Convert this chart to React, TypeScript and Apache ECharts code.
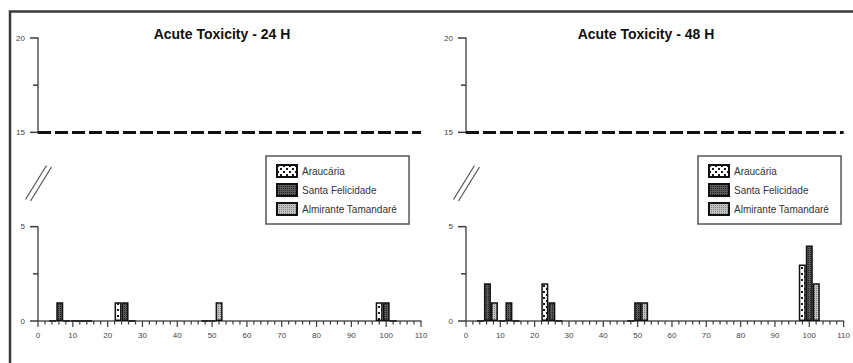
import React, { useEffect, useRef } from "react";
import * as echarts from "echarts";

const concentrations = [6.25, 12.5, 25, 50, 100];
const seriesNames = ["Araucária", "Santa Felicidade", "Almirante Tamandaré"];
const araucaria24 = [0, 0, 1, 0, 1];
const santaFelicidade24 = [1, 0, 1, 0, 1];
const almirante24 = [0, 0, 0, 1, 0];
const araucaria48 = [0, 0, 2, 0, 3];
const santaFelicidade48 = [2, 1, 1, 1, 4];
const almirante48 = [1, 0, 0, 1, 2];
const panelTitles = ["Acute Toxicity - 24 H", "Acute Toxicity - 48 H"];
const limitValue = 15;
const xMin = 0;
const xMax = 110;
const xInterval = 10;
const xMinorStep = 2;
const yMin = 0;
const yMax = 20;
const yInterval = 5;
const yMajorTicks = [0, 5, 15, 20];
const yMinorTicks = [2.5, 17.5];
const breakStart = 5;
const breakEnd = 15;
const breakGap = 5;

const FONT = "'Liberation Sans', Arial, sans-serif";

function makePattern(size: number, bg: string, fg: string, cells: number[][]) {
  const c = document.createElement("canvas");
  c.width = size;
  c.height = size;
  const ctx = c.getContext("2d")!;
  ctx.fillStyle = bg;
  ctx.fillRect(0, 0, size, size);
  ctx.fillStyle = fg;
  cells.forEach(([x, y, w, h]) => ctx.fillRect(x, y, w, h));
  return { image: c.toDataURL(), repeat: "repeat", imageWidth: size, imageHeight: size } as any;
}

export default function App() {
  const ref = useRef<HTMLDivElement>(null);
  useEffect(() => {
    if (!ref.current) return;
    const chart = echarts.init(ref.current, null, { renderer: "svg" });
    const patterns = [
      makePattern(6, "#ffffff", "#1a1a1a", [[0, 0, 2, 2], [3, 3, 2, 2]]),
      makePattern(2, "#5c5c5c", "#1e1e1e", [[0, 0, 1, 1]]),
      makePattern(2, "#c4c4c4", "#7a7a7a", [[0, 0, 1, 1]]),
    ];
    const panels = [
      [araucaria24, santaFelicidade24, almirante24],
      [araucaria48, santaFelicidade48, almirante48],
    ];
    const grids = [
      { left: 38, top: 38, width: 383, height: 283 },
      { left: 466, top: 38, width: 381, height: 283 },
    ];
    const axisColor = "#555";
    const series: any[] = [];
    panels.forEach((vals, p) => {
      vals.forEach((arr, s) => {
        series.push({
          type: "bar",
          name: seriesNames[s],
          xAxisIndex: p,
          yAxisIndex: p,
          barWidth: 7,
          barGap: "0%",
          data: concentrations.map((c, i) => [c, arr[i]]),
          itemStyle: { color: patterns[s], borderColor: "#111", borderWidth: 1.5 },
          markLine:
            s === 0
              ? {
                  silent: true,
                  symbol: ["none", "none"],
                  label: { show: false },
                  lineStyle: { color: "#111", width: 3, type: [13, 4] },
                  data: [{ yAxis: limitValue }],
                }
              : undefined,
        });
      });
    });
    const option: any = {
      animation: false,
      title: panelTitles.map((t, i) => ({
        text: t,
        left: i === 0 ? 217 : 641,
        top: 22,
        textAlign: "center",
        textStyle: { fontSize: 14, fontWeight: "bold", fontFamily: FONT, color: "#111" },
      })),
      legend: [0, 1].map((i) => ({
        orient: "vertical",
        left: i === 0 ? 266 : 698,
        top: 156,
        data: seriesNames,
        itemWidth: 20,
        itemHeight: 12,
        itemGap: 5,
        padding: [8, 12, 8, 10],
        borderColor: "#555",
        borderWidth: 1.5,
        selectedMode: false,
        icon: "rect",
        textStyle: { fontSize: 10, lineHeight: 12, fontFamily: FONT, color: "#333" },
      })),
      grid: grids,
      xAxis: grids.map((_, i) => ({
        type: "value",
        gridIndex: i,
        min: xMin,
        max: xMax,
        interval: xInterval,
        axisLine: { show: true, onZero: false, lineStyle: { color: axisColor, width: 1.5 } },
        axisTick: { show: false },
        minorTick: { show: false },
        axisLabel: { margin: 10, fontSize: 8, color: "#444", fontFamily: FONT },
        splitLine: { show: false },
      })),
      yAxis: grids.map((_, i) => ({
        type: "value",
        gridIndex: i,
        position: "left",
        min: yMin,
        max: yMax,
        interval: yInterval,
        breaks: [{ start: breakStart, end: breakEnd, gap: breakGap }],
        breakArea: { show: false },
        axisLine: { show: true, onZero: false, lineStyle: { color: axisColor, width: 1.5 } },
        axisTick: { show: false },
        minorTick: { show: false },
        axisLabel: { margin: 13, fontSize: 8, color: "#444", fontFamily: FONT },
        splitLine: { show: false },
      })),
      series,
    };
    chart.setOption(option);

    const graphics: any[] = [
      {
        type: "polyline",
        shape: { points: [[10, 363], [10, 11.5], [853, 11.5]] },
        style: { stroke: "#3a3a3a", lineWidth: 2.5, fill: null },
        silent: true,
      },
    ];
    const tickRect = (x: number, y: number, w: number, h: number) => ({
      type: "rect",
      z: 10,
      shape: { x, y, width: w, height: h },
      style: { fill: "#3c3c3c" },
      silent: true,
    });
    grids.forEach((g, i) => {
      const yPix = (v: number) => Number(chart.convertToPixel({ yAxisIndex: i } as any, v));
      const xPix = (v: number) => Number(chart.convertToPixel({ xAxisIndex: i } as any, v));
      const ax = xPix(xMin);
      const ay = yPix(yMin);
      // y ticks (drawn as thin filled rects)
      yMajorTicks.forEach((v) => {
        const py = yPix(v);
        graphics.push(tickRect(ax - 8, py - 0.75, 8, 1.5));
      });
      yMinorTicks.forEach((v) => {
        const py = yPix(v);
        graphics.push(tickRect(ax - 5, py - 0.75, 5, 1.5));
      });
      // x ticks
      for (let v = xMin; v <= xMax + 1e-9; v += xMinorStep) {
        const px = xPix(v);
        const major = Math.abs(v % xInterval) < 1e-9;
        graphics.push(tickRect(px - 0.6, ay, 1.2, major ? 6 : 3.5));
      }
      // axis break mark
      const p5 = yPix(breakStart);
      const p15 = yPix(breakEnd);
      const cy = p5 - (p5 - p15) * 0.46;
      [-2.5, 2.5].forEach((d) => {
        graphics.push({
          type: "line",
          shape: { x1: ax - 10 + d, y1: cy + 17 + d * 0.3, x2: ax + 11 + d, y2: cy - 17 + d * 0.3 },
          style: { stroke: "#555", lineWidth: 1.2 },
          silent: true,
        });
      });
    });
    chart.setOption({ graphic: graphics });
    return () => chart.dispose();
  }, []);
  return (
    <div
      ref={ref}
      style={{ position: "fixed", left: 0, top: 0, width: 853, height: 363, background: "#fff" }}
    />
  );
}
